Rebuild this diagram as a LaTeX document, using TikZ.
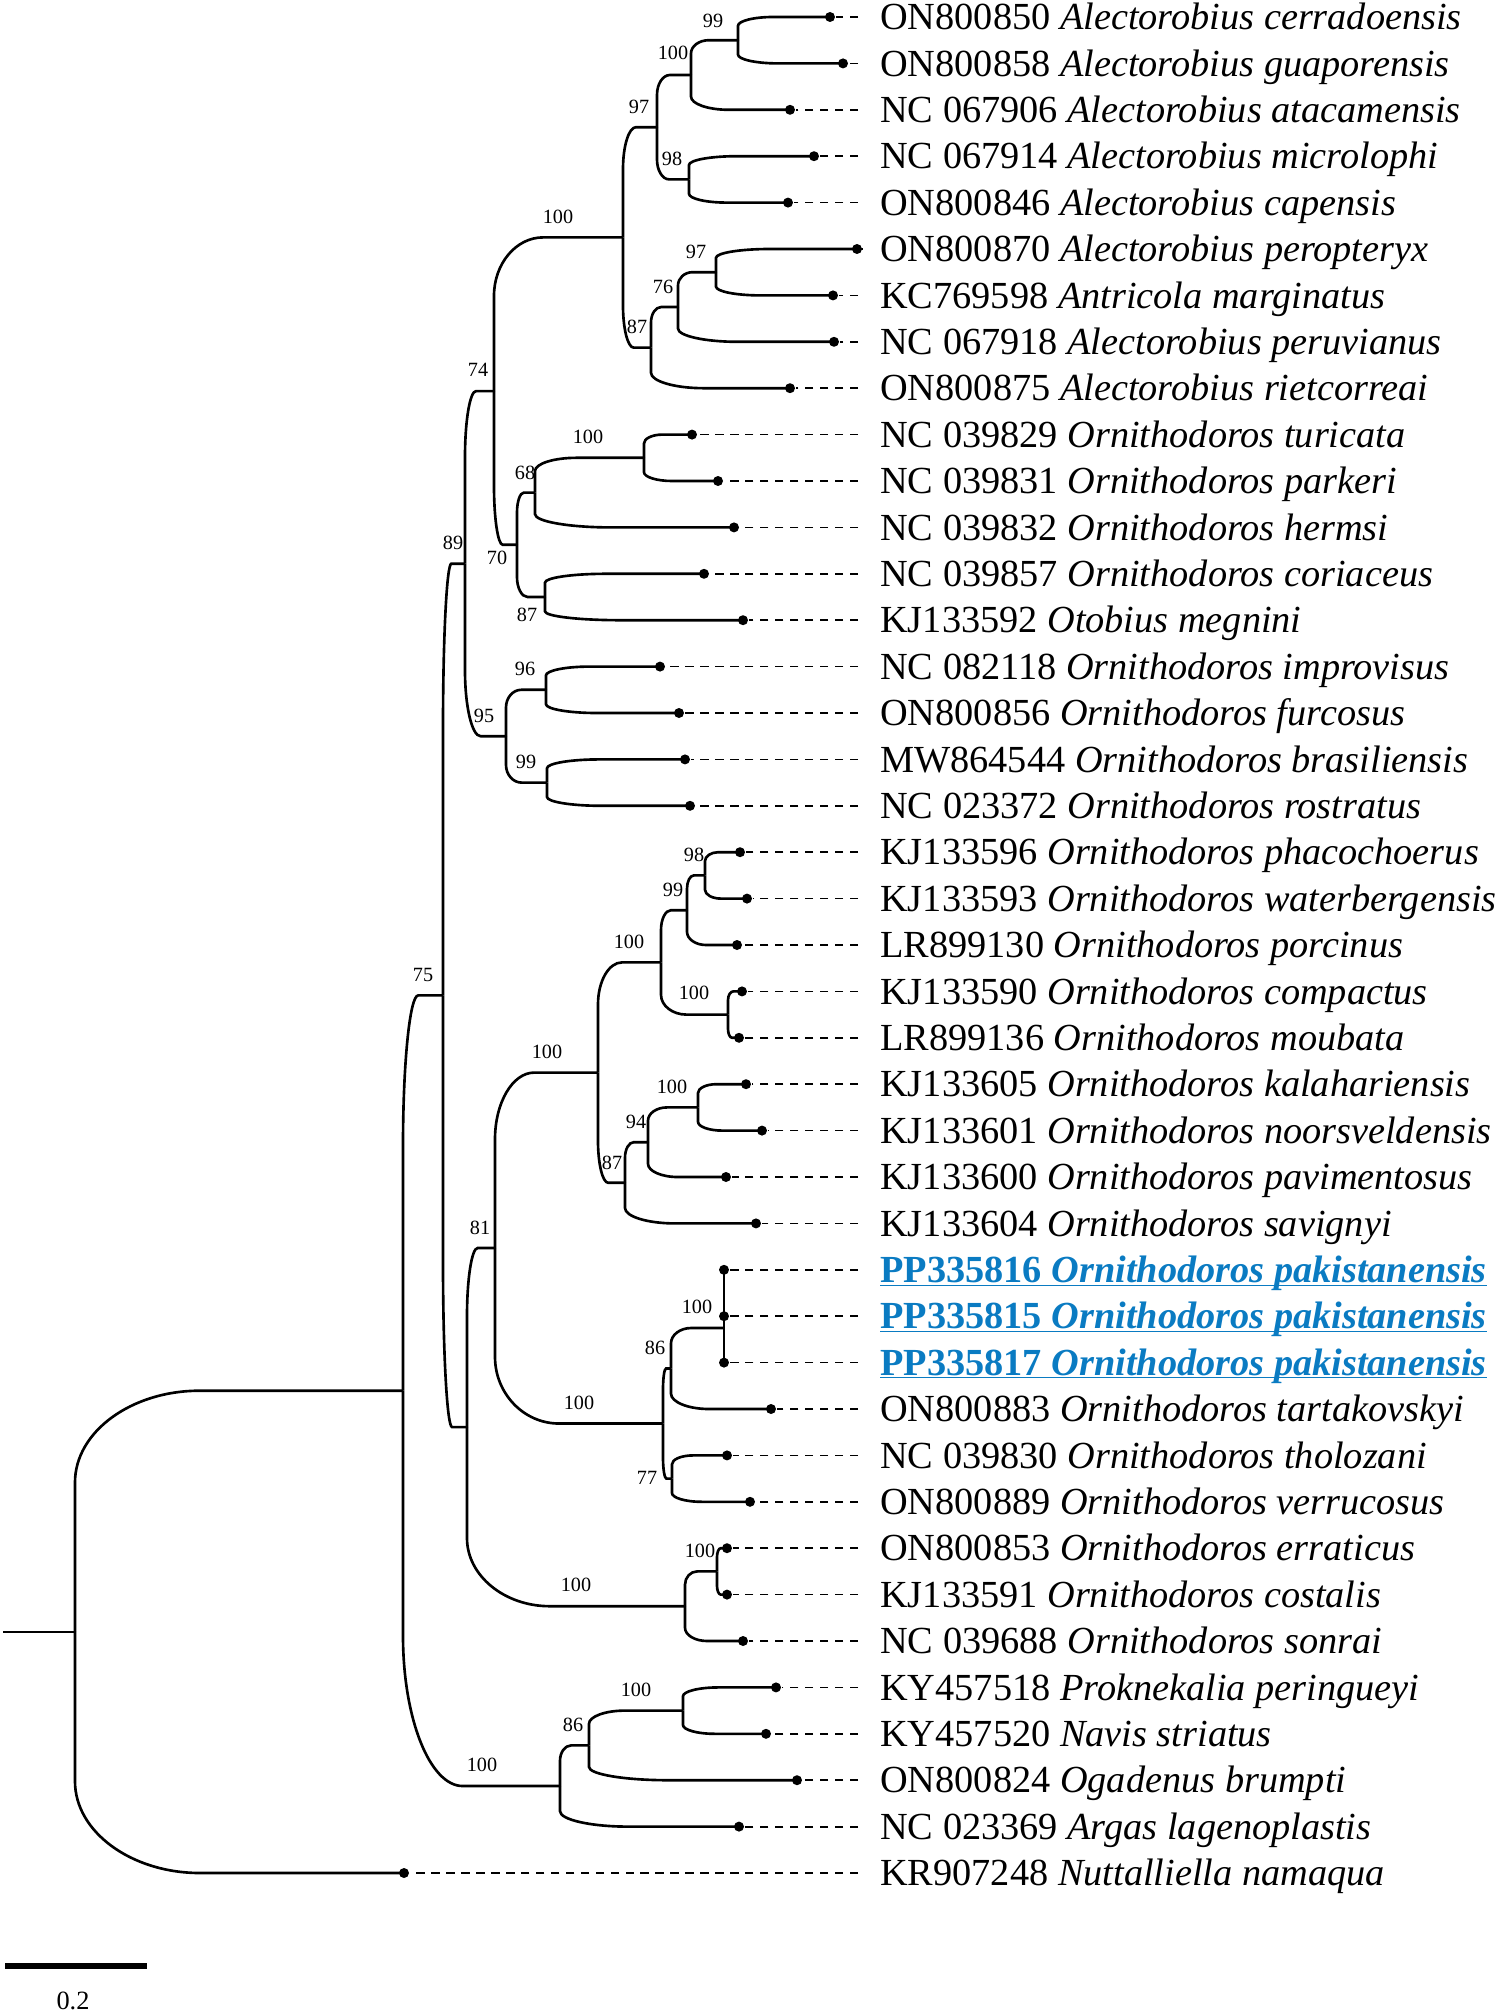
\documentclass[tikz,border=0pt]{standalone}
\usepackage{fontspec}
\setmainfont{Liberation Serif}
\usepackage{xcolor}
\usepackage{tikz}
\usetikzlibrary{calc}
\definecolor{pakblue}{HTML}{0A7BC2}

\begin{document}
\begin{tikzpicture}[x=0.02cm, y=-0.02cm, line width=1.5pt,
  tip/.style={circle, fill, inner sep=0pt, minimum size=0.2cm},
  taxon/.style={anchor=west, inner xsep=0.42cm, inner ysep=0pt, text height=14.4pt, text depth=0pt, font=\fontsize{21.8}{26}\selectfont},
  pak/.style={taxon, text=pakblue, font=\fontsize{21.8}{26}\selectfont\bfseries},
  boot/.style={inner sep=0pt, font=\fontsize{11.5}{13}\selectfont},
  leader/.style={line width=1pt, dash pattern=on 4.8pt off 3.7pt},
  branch/.style={to path={let \p1=(\tikztostart), \p2=(\tikztotarget) in
      -- (\x1,{\y2+0.38*(\y1-\y2)})
      .. controls (\x1,{\y2+0.171*(\y1-\y2)}) and ({\x1+0.171*(\x2-\x1)},\y2) .. ({\x1+0.38*(\x2-\x1)},\y2)
      -- (\p2)}}]

    \useasboundingbox (0,0) rectangle (1500,2014);

    % Tips and taxon names
    \node[tip] (t1) at (830,17) {};      \node[taxon] (l1) at (858,17) {ON800850 \textit{Alectorobius cerradoensis}};
    \node[tip] (t2) at (843,63.4) {};    \node[taxon] (l2) at (858,63.4) {ON800858 \textit{Alectorobius guaporensis}};
    \node[tip] (t3) at (790,109.8) {};   \node[taxon] (l3) at (858,109.8) {NC 067906 \textit{Alectorobius atacamensis}};
    \node[tip] (t4) at (814,156.2) {};   \node[taxon] (l4) at (858,156.2) {NC 067914 \textit{Alectorobius microlophi}};
    \node[tip] (t5) at (788,202.6) {};   \node[taxon] (l5) at (858,202.6) {ON800846 \textit{Alectorobius capensis}};
    \node[tip] (t6) at (857,249) {};     \node[taxon] (l6) at (858,249) {ON800870 \textit{Alectorobius peropteryx}};
    \node[tip] (t7) at (833,295.4) {};   \node[taxon] (l7) at (858,295.4) {KC769598 \textit{Antricola marginatus}};
    \node[tip] (t8) at (834,341.8) {};   \node[taxon] (l8) at (858,341.8) {NC 067918 \textit{Alectorobius peruvianus}};
    \node[tip] (t9) at (790,388.2) {};   \node[taxon] (l9) at (858,388.2) {ON800875 \textit{Alectorobius rietcorreai}};
    \node[tip] (t10) at (692,434.6) {};  \node[taxon] (l10) at (858,434.6) {NC 039829 \textit{Ornithodoros turicata}};
    \node[tip] (t11) at (718,481) {};    \node[taxon] (l11) at (858,481) {NC 039831 \textit{Ornithodoros parkeri}};
    \node[tip] (t12) at (734,527.4) {};  \node[taxon] (l12) at (858,527.4) {NC 039832 \textit{Ornithodoros hermsi}};
    \node[tip] (t13) at (704,573.8) {};  \node[taxon] (l13) at (858,573.8) {NC 039857 \textit{Ornithodoros coriaceus}};
    \node[tip] (t14) at (743,620.2) {};  \node[taxon] (l14) at (858,620.2) {KJ133592 \textit{Otobius megnini}};
    \node[tip] (t15) at (660,666.6) {};  \node[taxon] (l15) at (858,666.6) {NC 082118 \textit{Ornithodoros improvisus}};
    \node[tip] (t16) at (679,713) {};    \node[taxon] (l16) at (858,713) {ON800856 \textit{Ornithodoros furcosus}};
    \node[tip] (t17) at (685,759.4) {};  \node[taxon] (l17) at (858,759.4) {MW864544 \textit{Ornithodoros brasiliensis}};
    \node[tip] (t18) at (690,805.8) {};  \node[taxon] (l18) at (858,805.8) {NC 023372 \textit{Ornithodoros rostratus}};
    \node[tip] (t19) at (740,852.2) {};  \node[taxon] (l19) at (858,852.2) {KJ133596 \textit{Ornithodoros phacochoerus}};
    \node[tip] (t20) at (747,898.6) {};  \node[taxon] (l20) at (858,898.6) {KJ133593 \textit{Ornithodoros waterbergensis}};
    \node[tip] (t21) at (737,945) {};    \node[taxon] (l21) at (858,945) {LR899130 \textit{Ornithodoros porcinus}};
    \node[tip] (t22) at (742,991.4) {};  \node[taxon] (l22) at (858,991.4) {KJ133590 \textit{Ornithodoros compactus}};
    \node[tip] (t23) at (739,1037.8) {}; \node[taxon] (l23) at (858,1037.8) {LR899136 \textit{Ornithodoros moubata}};
    \node[tip] (t24) at (746,1084.2) {}; \node[taxon] (l24) at (858,1084.2) {KJ133605 \textit{Ornithodoros kalahariensis}};
    \node[tip] (t25) at (762,1130.6) {}; \node[taxon] (l25) at (858,1130.6) {KJ133601 \textit{Ornithodoros noorsveldensis}};
    \node[tip] (t26) at (726,1177) {};   \node[taxon] (l26) at (858,1177) {KJ133600 \textit{Ornithodoros pavimentosus}};
    \node[tip] (t27) at (756,1223.4) {}; \node[taxon] (l27) at (858,1223.4) {KJ133604 \textit{Ornithodoros savignyi}};
    \node[tip] (t28) at (724,1269.8) {}; \node[pak] (l28) at (858,1269.8) {\underline{\smash{PP335816 \textit{Ornithodoros pakistanensis}}}};
    \node[tip] (t29) at (724,1316.2) {}; \node[pak] (l29) at (858,1316.2) {\underline{\smash{PP335815 \textit{Ornithodoros pakistanensis}}}};
    \node[tip] (t30) at (724,1362.6) {}; \node[pak] (l30) at (858,1362.6) {\underline{\smash{PP335817 \textit{Ornithodoros pakistanensis}}}};
    \node[tip] (t31) at (771,1409) {};   \node[taxon] (l31) at (858,1409) {ON800883 \textit{Ornithodoros tartakovskyi}};
    \node[tip] (t32) at (727,1455.4) {}; \node[taxon] (l32) at (858,1455.4) {NC 039830 \textit{Ornithodoros tholozani}};
    \node[tip] (t33) at (750,1501.8) {}; \node[taxon] (l33) at (858,1501.8) {ON800889 \textit{Ornithodoros verrucosus}};
    \node[tip] (t34) at (727,1548.2) {}; \node[taxon] (l34) at (858,1548.2) {ON800853 \textit{Ornithodoros erraticus}};
    \node[tip] (t35) at (727,1594.6) {}; \node[taxon] (l35) at (858,1594.6) {KJ133591 \textit{Ornithodoros costalis}};
    \node[tip] (t36) at (743,1641) {};   \node[taxon] (l36) at (858,1641) {NC 039688 \textit{Ornithodoros sonrai}};
    \node[tip] (t37) at (776,1687.4) {}; \node[taxon] (l37) at (858,1687.4) {KY457518 \textit{Proknekalia peringueyi}};
    \node[tip] (t38) at (766,1733.8) {}; \node[taxon] (l38) at (858,1733.8) {KY457520 \textit{Navis striatus}};
    \node[tip] (t39) at (797,1780.2) {}; \node[taxon] (l39) at (858,1780.2) {ON800824 \textit{Ogadenus brumpti}};
    \node[tip] (t40) at (739,1826.6) {}; \node[taxon] (l40) at (858,1826.6) {NC 023369 \textit{Argas lagenoplastis}};
    \node[tip] (t41) at (404,1873) {};   \node[taxon] (l41) at (858,1873) {KR907248 \textit{Nuttalliella namaqua}};

    % Internal nodes
    \coordinate (n99a) at (738,40.2);
    \coordinate (n100a) at (691,75);
    \coordinate (n98a) at (689,179.4);
    \coordinate (n97a) at (657,127.2);
    \coordinate (n97b) at (716,272.2);
    \coordinate (n76) at (678,307);
    \coordinate (n87a) at (651,347.6);
    \coordinate (nAlec) at (623,237.4);
    \coordinate (n100t) at (644,457.8);
    \coordinate (n68) at (535,492.6);
    \coordinate (n87o) at (545,597);
    \coordinate (n70) at (517,544.8);
    \coordinate (n74) at (494,391.1);
    \coordinate (n96) at (546,689.8);
    \coordinate (n99b) at (547,782.6);
    \coordinate (n95) at (506,736.2);
    \coordinate (n89) at (465,563.7);
    \coordinate (n98c) at (705,875.4);
    \coordinate (n99c) at (687,910.2);
    \coordinate (n100c) at (728,1014.6);
    \coordinate (n100m) at (661,962.4);
    \coordinate (n100k) at (698,1107.4);
    \coordinate (n94) at (648,1142.2);
    \coordinate (n87c) at (625,1182.8);
    \coordinate (nAfr) at (598,1072.6);
    \coordinate (nPak) at (724,1328);
    \coordinate (n86p) at (671,1368.5);
    \coordinate (n77) at (672,1478.6);
    \coordinate (nPakC) at (663,1423.5);
    \coordinate (n81) at (495,1248);
    \coordinate (n100e) at (717,1571.4);
    \coordinate (nErr) at (685,1606.2);
    \coordinate (nOrn) at (467,1427.1);
    \coordinate (n75) at (443,995.4);
    \coordinate (n100g) at (683,1710.6);
    \coordinate (n86g) at (589,1745.4);
    \coordinate (nArg) at (560,1786);
    \coordinate (nIn) at (403,1390.7);
    \coordinate (root) at (75,1631.9);
    \coordinate (stem) at (3,1631.9);

    % Tree branches
    \path[branch]
    (n99a) edge (t1) (n99a) edge (t2)
    (n100a) edge (n99a) (n100a) edge (t3)
    (n98a) edge (t4) (n98a) edge (t5)
    (n97a) edge (n100a) (n97a) edge (n98a)
    (n97b) edge (t6) (n97b) edge (t7)
    (n76) edge (n97b) (n76) edge (t8)
    (n87a) edge (n76) (n87a) edge (t9)
    (nAlec) edge (n97a) (nAlec) edge (n87a)
    (n100t) edge (t10) (n100t) edge (t11)
    (n68) edge (n100t) (n68) edge (t12)
    (n87o) edge (t13) (n87o) edge (t14)
    (n70) edge (n68) (n70) edge (n87o)
    (n74) edge (nAlec) (n74) edge (n70)
    (n96) edge (t15) (n96) edge (t16)
    (n99b) edge (t17) (n99b) edge (t18)
    (n95) edge (n96) (n95) edge (n99b)
    (n89) edge (n74) (n89) edge (n95)
    (n98c) edge (t19) (n98c) edge (t20)
    (n99c) edge (n98c) (n99c) edge (t21)
    (n100c) edge (t22) (n100c) edge (t23)
    (n100m) edge (n99c) (n100m) edge (n100c)
    (n100k) edge (t24) (n100k) edge (t25)
    (n94) edge (n100k) (n94) edge (t26)
    (n87c) edge (n94) (n87c) edge (t27)
    (nAfr) edge (n100m) (nAfr) edge (n87c)
    (nPak) edge (t28) (nPak) edge (t29) (nPak) edge (t30)
    (n86p) edge (nPak) (n86p) edge (t31)
    (n77) edge (t32) (n77) edge (t33)
    (nPakC) edge (n86p) (nPakC) edge (n77)
    (n81) edge (nAfr) (n81) edge (nPakC)
    (n100e) edge (t34) (n100e) edge (t35)
    (nErr) edge (n100e) (nErr) edge (t36)
    (nOrn) edge (n81) (nOrn) edge (nErr)
    (n75) edge (n89) (n75) edge (nOrn)
    (n100g) edge (t37) (n100g) edge (t38)
    (n86g) edge (n100g) (n86g) edge (t39)
    (nArg) edge (n86g) (nArg) edge (t40)
    (nIn) edge (n75) (nIn) edge (nArg)
    (root) edge (nIn) (root) edge (t41)
    ;
    \draw (stem) -- (root);

    % Dashed leaders
    \path[leader]
    (l1.west) edge (t1) (l2.west) edge (t2) (l3.west) edge (t3) (l4.west) edge (t4)
    (l5.west) edge (t5) (l6.west) edge (t6) (l7.west) edge (t7) (l8.west) edge (t8)
    (l9.west) edge (t9) (l10.west) edge (t10) (l11.west) edge (t11) (l12.west) edge (t12)
    (l13.west) edge (t13) (l14.west) edge (t14) (l15.west) edge (t15) (l16.west) edge (t16)
    (l17.west) edge (t17) (l18.west) edge (t18) (l19.west) edge (t19) (l20.west) edge (t20)
    (l21.west) edge (t21) (l22.west) edge (t22) (l23.west) edge (t23) (l24.west) edge (t24)
    (l25.west) edge (t25) (l26.west) edge (t26) (l27.west) edge (t27) (l28.west) edge (t28)
    (l29.west) edge (t29) (l30.west) edge (t30) (l31.west) edge (t31) (l32.west) edge (t32)
    (l33.west) edge (t33) (l34.west) edge (t34) (l35.west) edge (t35) (l36.west) edge (t36)
    (l37.west) edge (t37) (l38.west) edge (t38) (l39.west) edge (t39) (l40.west) edge (t40)
    (l41.west) edge (t41)
    ;

    % Bootstrap values
    \node[boot] (b99a) at (713,21) {99};
    \node[boot] (b100a) at (673,53) {100};
    \node[boot] (b97a) at (639,107) {97};
    \node[boot] (b98a) at (672,159) {98};
    \node[boot] (bAlec) at (558,217) {100};
    \node[boot] (b97b) at (696,252) {97};
    \node[boot] (b76) at (663,287) {76};
    \node[boot] (b87a) at (637,327) {87};
    \node[boot] (b74) at (478,370) {74};
    \node[boot] (b100t) at (588,437) {100};
    \node[boot] (b68) at (525,473) {68};
    \node[boot] (b89) at (453,543) {89};
    \node[boot] (b70) at (497,558) {70};
    \node[boot] (b87o) at (527,615) {87};
    \node[boot] (b96) at (525,669) {96};
    \node[boot] (b95) at (484,716) {95};
    \node[boot] (b99b) at (526,762) {99};
    \node[boot] (b75) at (423,975) {75};
    \node[boot] (b98c) at (694,855) {98};
    \node[boot] (b99c) at (673,890) {99};
    \node[boot] (b100m) at (629,942) {100};
    \node[boot] (b100c) at (694,993) {100};
    \node[boot] (bAfr) at (547,1052) {100};
    \node[boot] (b100k) at (672,1087) {100};
    \node[boot] (b94) at (636,1122) {94};
    \node[boot] (b87c) at (612,1163) {87};
    \node[boot] (b81) at (480,1228) {81};
    \node[boot] (bPak) at (697,1307) {100};
    \node[boot] (b86p) at (655,1348) {86};
    \node[boot] (bPakC) at (579,1403) {100};
    \node[boot] (b77) at (647,1478) {77};
    \node[boot] (b100e) at (700,1551) {100};
    \node[boot] (bErr) at (576,1585) {100};
    \node[boot] (b100g) at (636,1690) {100};
    \node[boot] (b86g) at (573,1725) {86};
    \node[boot] (bArg) at (482,1765) {100};

    % Scale bar
    \coordinate (sbL) at (5,1966);
    \coordinate (sbR) at (147,1966);
    \draw[line width=3.4pt] (sbL) -- (sbR);
    \node[inner sep=0pt, font=\fontsize{15}{18}\selectfont] (sbT) at (73,2001) {0.2};

\end{tikzpicture}
\end{document}
